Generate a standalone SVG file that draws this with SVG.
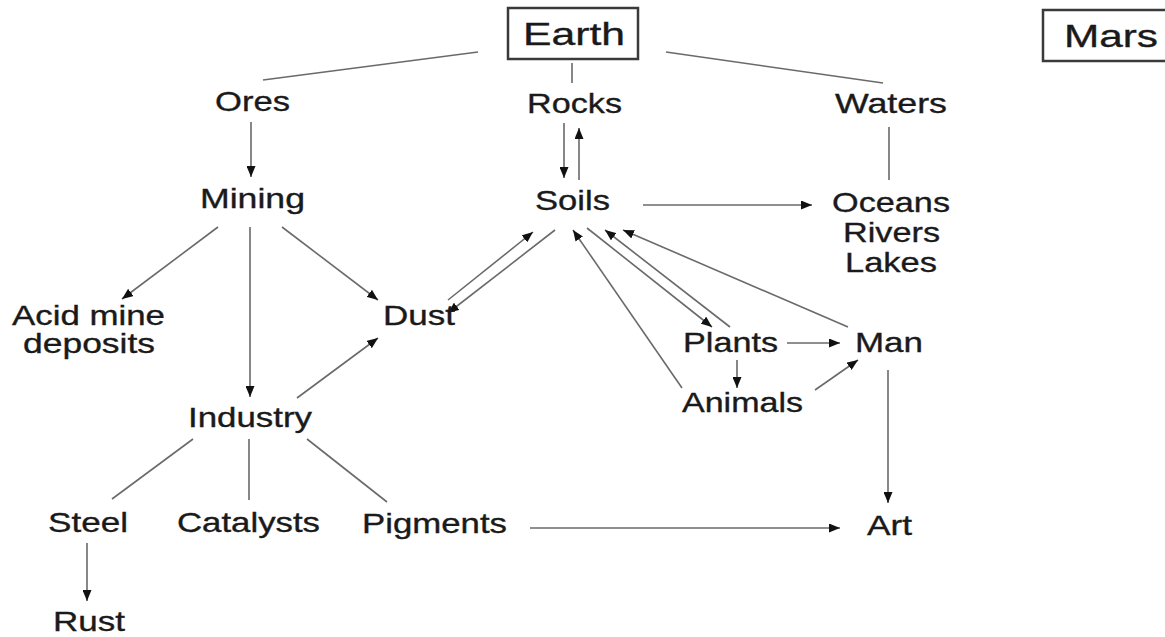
<svg xmlns="http://www.w3.org/2000/svg" width="1165" height="637" viewBox="0 0 1165 637">
<style>
  .lbl { font-family: "Liberation Sans", Arial, sans-serif; font-size: 28px; fill: #1a1a1a; stroke: #1a1a1a; stroke-width: 0.35; }
  .big { font-size: 32px; }
  .box { fill: #ffffff; stroke: #3a3a3a; stroke-width: 2.5; }
  .ln { stroke: #6a6a6a; stroke-width: 1.6; fill: none; }
  .ar { stroke: #6a6a6a; stroke-width: 1.6; fill: none; marker-end: url(#ah); }
</style>
<defs>
  <marker id="ah" markerUnits="userSpaceOnUse" markerWidth="12" markerHeight="9" refX="11" refY="4.5" orient="auto">
    <path d="M0,0 L11,4.5 L0,9 z" fill="#111"/>
  </marker>
</defs>
<rect width="1165" height="637" fill="#ffffff"/>
<g id="connectors">
  <line class="ln" x1="478" y1="52" x2="263" y2="80"/>
  <line class="ln" x1="572" y1="63" x2="572" y2="83"/>
  <line class="ln" x1="666" y1="52" x2="883" y2="83"/>
  <line class="ln" x1="889" y1="127" x2="889" y2="180"/>
  <line class="ln" x1="193" y1="439" x2="112" y2="499"/>
  <line class="ln" x1="249" y1="439" x2="249" y2="500"/>
  <line class="ln" x1="307" y1="439" x2="387" y2="502"/>
  <line class="ar" x1="251" y1="122" x2="251" y2="177"/>
  <line class="ar" x1="564" y1="123" x2="564" y2="178"/>
  <line class="ar" x1="579" y1="180" x2="579" y2="128"/>
  <line class="ar" x1="643" y1="205" x2="812" y2="205"/>
  <line class="ar" x1="218" y1="227" x2="122" y2="299"/>
  <line class="ar" x1="250" y1="227" x2="250" y2="397"/>
  <line class="ar" x1="282" y1="227" x2="378" y2="300"/>
  <line class="ar" x1="297" y1="398" x2="378" y2="338"/>
  <line class="ar" x1="448" y1="300" x2="533" y2="232"/>
  <line class="ar" x1="555" y1="230" x2="448" y2="313"/>
  <line class="ar" x1="587" y1="228" x2="712" y2="327"/>
  <line class="ar" x1="730" y1="327" x2="605" y2="230"/>
  <line class="ar" x1="848" y1="327" x2="623" y2="230"/>
  <line class="ar" x1="682" y1="388" x2="573" y2="230"/>
  <line class="ar" x1="787" y1="343" x2="840" y2="343"/>
  <line class="ar" x1="737" y1="360" x2="737" y2="388"/>
  <line class="ar" x1="815" y1="390" x2="858" y2="360"/>
  <line class="ar" x1="888" y1="370" x2="888" y2="503"/>
  <line class="ar" x1="530" y1="528" x2="840" y2="528"/>
  <line class="ar" x1="87" y1="543" x2="87" y2="601"/>
</g>
<g id="earth"><rect class="box" x="508" y="8" width="130" height="51"/><text class="lbl big" x="523" y="45" textLength="102" lengthAdjust="spacingAndGlyphs">Earth</text></g>
<g id="mars"><rect class="box" x="1043" y="10" width="130" height="51"/><text class="lbl big" x="1064" y="47" textLength="94" lengthAdjust="spacingAndGlyphs">Mars</text></g>
<g id="ores"><text class="lbl" x="215" y="111" textLength="75" lengthAdjust="spacingAndGlyphs">Ores</text></g>
<g id="rocks"><text class="lbl" x="527" y="113" textLength="95" lengthAdjust="spacingAndGlyphs">Rocks</text></g>
<g id="waters"><text class="lbl" x="835" y="113" textLength="112" lengthAdjust="spacingAndGlyphs">Waters</text></g>
<g id="mining"><text class="lbl" x="200" y="208" textLength="105" lengthAdjust="spacingAndGlyphs">Mining</text></g>
<g id="soils"><text class="lbl" x="535" y="210" textLength="75" lengthAdjust="spacingAndGlyphs">Soils</text></g>
<g id="oceans"><text class="lbl" x="832" y="212" textLength="118" lengthAdjust="spacingAndGlyphs">Oceans</text><text class="lbl" x="843" y="242" textLength="97" lengthAdjust="spacingAndGlyphs">Rivers</text><text class="lbl" x="845" y="272" textLength="92" lengthAdjust="spacingAndGlyphs">Lakes</text></g>
<g id="acid"><text class="lbl" x="12" y="325" textLength="153" lengthAdjust="spacingAndGlyphs">Acid mine</text><text class="lbl" x="23" y="353" textLength="132" lengthAdjust="spacingAndGlyphs">deposits</text></g>
<g id="dust"><text class="lbl" x="383" y="325" textLength="72" lengthAdjust="spacingAndGlyphs">Dust</text></g>
<g id="plants"><text class="lbl" x="683" y="352" textLength="95" lengthAdjust="spacingAndGlyphs">Plants</text></g>
<g id="man"><text class="lbl" x="855" y="352" textLength="68" lengthAdjust="spacingAndGlyphs">Man</text></g>
<g id="animals"><text class="lbl" x="682" y="412" textLength="121" lengthAdjust="spacingAndGlyphs">Animals</text></g>
<g id="industry"><text class="lbl" x="188" y="427" textLength="124" lengthAdjust="spacingAndGlyphs">Industry</text></g>
<g id="steel"><text class="lbl" x="48" y="532" textLength="80" lengthAdjust="spacingAndGlyphs">Steel</text></g>
<g id="catalysts"><text class="lbl" x="177" y="532" textLength="143" lengthAdjust="spacingAndGlyphs">Catalysts</text></g>
<g id="pigments"><text class="lbl" x="362" y="533" textLength="145" lengthAdjust="spacingAndGlyphs">Pigments</text></g>
<g id="art"><text class="lbl" x="867" y="535" textLength="45" lengthAdjust="spacingAndGlyphs">Art</text></g>
<g id="rust"><text class="lbl" x="53" y="631" textLength="72" lengthAdjust="spacingAndGlyphs">Rust</text></g>
</svg>
